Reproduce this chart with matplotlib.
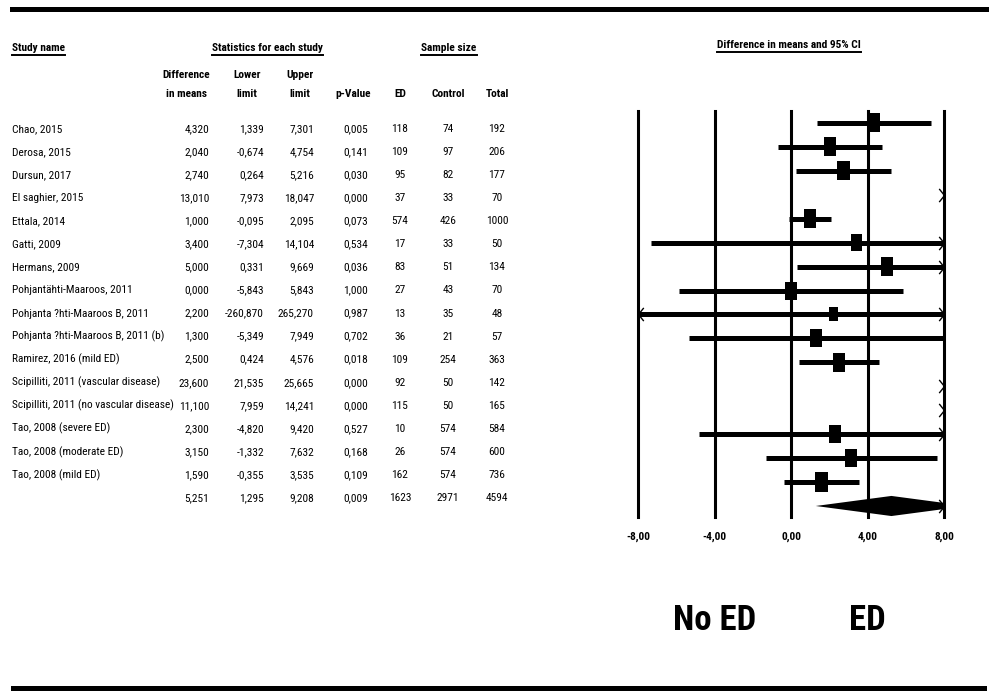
import re
import matplotlib
matplotlib.use("Agg")
import numpy as np
import matplotlib.pyplot as plt
from matplotlib import font_manager, transforms
from matplotlib.path import Path
from matplotlib.patches import Polygon, Rectangle
from matplotlib.lines import Line2D

# ---- data ----
studies = [
    "Chao, 2015", "Derosa, 2015", "Dursun, 2017", "El saghier, 2015",
    "Ettala, 2014", "Gatti, 2009", "Hermans, 2009", "Pohjantähti-Maaroos, 2011",
    "Pohjanta ?hti-Maaroos B, 2011", "Pohjanta ?hti-Maaroos B, 2011 (b)",
    "Ramirez, 2016 (mild ED)", "Scipilliti, 2011 (vascular disease)",
    "Scipilliti, 2011 (no vascular disease)", "Tao, 2008 (severe ED)",
    "Tao, 2008 (moderate ED)", "Tao, 2008 (mild ED)",
]
diff = [4.320, 2.040, 2.740, 13.010, 1.000, 3.400, 5.000, 0.000,
        2.200, 1.300, 2.500, 23.600, 11.100, 2.300, 3.150, 1.590]
lower = [1.339, -0.674, 0.264, 7.973, -0.095, -7.304, 0.331, -5.843,
         -260.870, -5.349, 0.424, 21.535, 7.959, -4.820, -1.332, -0.355]
upper = [7.301, 4.754, 5.216, 18.047, 2.095, 14.104, 9.669, 5.843,
         265.270, 7.949, 4.576, 25.665, 14.241, 9.420, 7.632, 3.535]
p_values = [0.005, 0.141, 0.030, 0.000, 0.073, 0.534, 0.036, 1.000,
            0.987, 0.702, 0.018, 0.000, 0.000, 0.527, 0.168, 0.109]
n_ed = [118, 109, 95, 37, 574, 17, 83, 27, 13, 36, 109, 92, 115, 10, 26, 162]
n_control = [74, 97, 82, 33, 426, 33, 51, 43, 35, 21, 254, 50, 50, 574, 574, 574]
n_total = [192, 206, 177, 70, 1000, 50, 134, 70, 48, 57, 363, 142, 165, 584, 600, 736]
# relative weights (%)
weights = [6.6, 6.7, 6.7, 6.4, 6.9, 5.2, 6.4, 5.9, 3.6, 5.9, 6.8, 6.8, 6.6, 5.8, 6.4, 6.8]
pooled = [5.251, 1.295, 9.208, 0.009, 1623, 2971, 4594]
x_ticks = [-8, -4, 0, 4, 8]
side_labels = ["No ED", "ED"]


def as_weight(w):
    if isinstance(w, str):
        return font_manager.weight_dict.get(w, 400)
    return int(w)


def find_condensed():
    # look for an installed narrow / condensed sans face (regular + bold)
    reg, bold = None, None
    best = {}
    for f in font_manager.fontManager.ttflist:
        fn = f.fname.lower()
        nm = f.name.lower()
        if f.style != "normal":
            continue
        cond = ("narrow" in fn or "narrow" in nm or str(f.stretch) == "condensed"
                or (re.search(r"condensed", fn) and not re.search(r"(semi|extra|ultra)condensed", fn)))
        if not cond or "mono" in nm or "serif" in nm.replace("sans serif", ""):
            continue
        w = as_weight(f.weight)
        key = f.name
        best.setdefault(key, {})
        if w in (400, 500) and "regular" not in best[key]:
            best[key]["regular"] = f.fname
        if w == 700:
            best[key]["bold"] = f.fname
    order = ["Liberation Sans Narrow", "Arial Narrow", "Roboto Condensed",
             "Noto Sans", "Noto Sans Condensed", "Open Sans", "Open Sans Condensed",
             "DejaVu Sans", "DejaVu Sans Condensed"]
    keys = [k for k in order if k in best] + [k for k in best if k not in order]
    for k in keys:
        if "regular" in best[k] and "bold" in best[k]:
            reg, bold = best[k]["regular"], best[k]["bold"]
            break
    return reg, bold


reg_file, bold_file = find_condensed()
plt.rcParams["font.family"] = ["Liberation Sans", "DejaVu Sans"]


def fp(size, bold=False):
    if reg_file:
        return font_manager.FontProperties(fname=bold_file if bold else reg_file, size=size)
    return font_manager.FontProperties(family=["Liberation Sans", "DejaVu Sans"],
                                       weight="bold" if bold else "normal", size=size)


W, H = 989, 691
fig = plt.figure(figsize=(W / 100, H / 100), dpi=100)

# pixel-space axes for the table part
tab = fig.add_axes([0, 0, 1, 1])
tab.set_xlim(0, W)
tab.set_ylim(H, 0)
tab.axis("off")

# size the table font so the longest study name fits its column
fig.canvas.draw()
probe = tab.text(0, 0, max(studies, key=len), fontproperties=fp(10))
pw = probe.get_window_extent(fig.canvas.get_renderer()).width
probe.remove()
fs = min(10.5, 10 * 161 / pw)


def fmt(v):
    return f"{v:.3f}".replace(".", ",")


row0, step = 132, 23.07
col_names = 12
cols_right = [209, 264, 314, 368]
cols_center = [400, 448, 497]

headers = []
headers.append(tab.text(col_names, 51, "Study name", fontproperties=fp(fs, True)))
headers.append(tab.text(267, 51, "Statistics for each study", fontproperties=fp(fs, True),
                        ha="center"))
headers.append(tab.text(449, 51, "Sample size", fontproperties=fp(fs, True), ha="center"))
headers.append(tab.text(789, 48, "Difference in means and 95% CI",
                        fontproperties=fp(fs, True), ha="center"))

sub = [(186, "Difference", "in means"), (247, "Lower", "limit"), (300, "Upper", "limit"),
       (353, "", "p-Value"), (400, "", "ED"), (448, "", "Control"), (497, "", "Total")]
for x, l1, l2 in sub:
    if l1:
        tab.text(x, 78, l1, fontproperties=fp(fs, True), ha="center")
    tab.text(x, 97, l2, fontproperties=fp(fs, True), ha="center")

for i, name in enumerate(studies):
    y = row0 + i * step
    tab.text(col_names, y, name, fontproperties=fp(fs))
    for x, v in zip(cols_right, [diff[i], lower[i], upper[i], p_values[i]]):
        tab.text(x, y, fmt(v), fontproperties=fp(fs), ha="right")
    for x, v in zip(cols_center, [n_ed[i], n_control[i], n_total[i]]):
        tab.text(x, y, str(v), fontproperties=fp(fs), ha="center")

y = row0 + len(studies) * step
for x, v in zip(cols_right, pooled[:4]):
    tab.text(x, y, fmt(v), fontproperties=fp(fs), ha="right")
for x, v in zip(cols_center, pooled[4:]):
    tab.text(x, y, str(v), fontproperties=fp(fs), ha="center")

# thick rules at top and bottom
tab.add_patch(Rectangle((10, 7), W - 10, 5, color="k", lw=0))
tab.add_patch(Rectangle((11, 686), 976, 5, color="k", lw=0))

# ---- forest part ----
ax = fig.add_axes([638 / W, 1 - 517 / H, 306 / W, 406 / H])
ax.set_xlim(-8, 8)
ax.set_ylim(16.46, -0.5)
for s in ax.spines.values():
    s.set_visible(False)
ax.set_yticks([])
ax.set_xticks(x_ticks)
ax.set_xticklabels([f"{t:.2f}".replace(".", ",") for t in x_ticks])
for lab in ax.get_xticklabels():
    lab.set_fontproperties(fp(fs, True))
ax.tick_params(axis="x", length=0, pad=10.5)
for t in x_ticks:
    ax.axvline(t, color="k", lw=2.2, clip_on=False)

chev_r = Path([(-0.8, 1), (0, 0), (-0.8, -1)], [Path.MOVETO, Path.LINETO, Path.LINETO])
chev_l = Path([(0.8, 1), (0, 0), (0.8, -1)], [Path.MOVETO, Path.LINETO, Path.LINETO])
xmin, xmax = ax.get_xlim()


def arrows(lo, hi, yy):
    if hi > xmax:
        ax.plot(xmax, yy, marker=chev_r, ms=9.5, mec="k", mew=1.0, mfc="none",
                clip_on=False, zorder=5)
    if lo < xmin:
        ax.plot(xmin, yy, marker=chev_l, ms=9.5, mec="k", mew=1.0, mfc="none",
                clip_on=False, zorder=5)


wmax = max(weights)
box_w, box_h = 0.66, 0.81
for i in range(len(studies)):
    ax.plot([lower[i], upper[i]], [i, i], color="k", lw=3.6, solid_capstyle="butt")
    sc = np.sqrt(weights[i] / wmax)
    ax.add_patch(Rectangle((diff[i] - box_w * sc / 2, i - box_h * sc / 2),
                           box_w * sc, box_h * sc, color="k", lw=0))
    arrows(lower[i], upper[i], i)

yp = len(studies)
est, lo, hi = pooled[0], pooled[1], pooled[2]
hd = 0.42
ax.add_patch(Polygon([(lo, yp), (est, yp - hd), (hi, yp), (est, yp + hd)],
                     closed=True, color="k", lw=0))
arrows(lo, hi, yp)

blend = transforms.blended_transform_factory(ax.transData, fig.transFigure)
big = 25 if reg_file else 21
for x, lab in zip([-4, 4], side_labels):
    ax.text(x, 1 - 630 / H, lab, transform=blend, ha="center", va="baseline",
            fontproperties=fp(big, True))

# underline the group headers
fig.canvas.draw()
for t in headers:
    bb = t.get_window_extent()
    fig.add_artist(Line2D([bb.x0, bb.x1], [bb.y0 - 2, bb.y0 - 2], color="k", lw=1.4,
                          transform=None))

fig.savefig("out.png", dpi=100)
